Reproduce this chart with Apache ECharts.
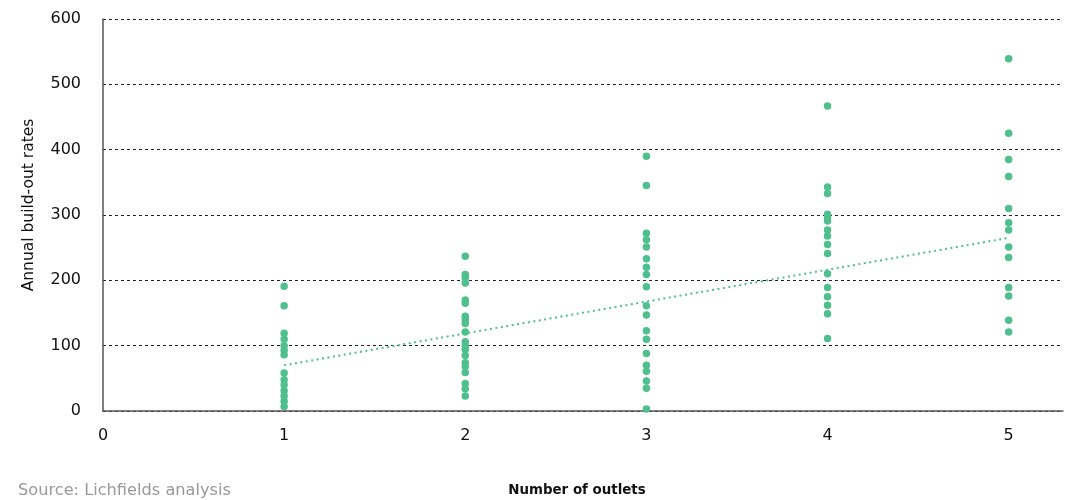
<!DOCTYPE html>
<html>
<head>
<meta charset="utf-8">
<script src="https://cdn.jsdelivr.net/npm/echarts@6/dist/echarts.min.js"></script>
<style>
html,body{margin:0;padding:0;background:#fff;}
#chart{width:1066px;height:500px;}
</style>
</head>
<body>
<div id="chart"></div>
<script>
// Data
const outlets1 = [191, 161, 119, 110, 100, 93, 86, 58, 48, 40, 31, 23, 15, 7];
const outlets2 = [237, 209, 204, 196, 170, 165, 145, 140, 134, 121, 106, 100, 94, 85, 74, 68, 59, 42, 34, 23];
const outlets3 = [390, 345, 272, 262, 251, 233, 220, 209, 190, 161, 147, 123, 110, 88, 70, 61, 46, 35, 3];
const outlets4 = [467, 343, 333, 301, 296, 291, 277, 268, 255, 241, 210, 189, 175, 162, 149, 111];
const outlets5 = [539, 425, 385, 359, 310, 288, 277, 251, 235, 189, 176, 139, 121];
const trendX = [1, 5];
const trendY = [70, 265];
const yTicks = [0, 100, 200, 300, 400, 500, 600];
const xTicks = [0, 1, 2, 3, 4, 5];

const groups = [outlets1, outlets2, outlets3, outlets4, outlets5];
const points = [];
groups.forEach((vals, i) => vals.forEach(v => points.push([i + 1, v])));
const trend = trendX.map((x, i) => [x, trendY[i]]);

const green = '#4fc08d';
const font = '"DejaVu Sans", Verdana, sans-serif';

const chart = echarts.init(document.getElementById('chart'), null, {renderer: 'canvas'});
chart.setOption({
  animation: false,
  backgroundColor: '#fff',
  grid: {left: 103, right: 3, top: 19, bottom: 89, containLabel: false},
  xAxis: {
    type: 'value',
    min: 0,
    max: 5.3,
    interval: 1,
    axisLine: {show: true, onZero: false, lineStyle: {color: '#555', width: 1.5}},
    axisTick: {show: false},
    splitLine: {show: false},
    axisLabel: {
      color: '#111', fontSize: 16, fontFamily: font, margin: 17,
      showMaxLabel: false,
      formatter: v => xTicks.indexOf(v) >= 0 ? String(v) : ''
    }
  },
  yAxis: {
    type: 'value',
    min: yTicks[0],
    max: yTicks[yTicks.length - 1],
    interval: 100,
    axisLine: {show: true, lineStyle: {color: '#555', width: 1.5}},
    axisTick: {show: false},
    splitLine: {show: true, lineStyle: {color: '#222', type: [3, 3], width: 1}},
    axisLabel: {color: '#111', fontSize: 16, fontFamily: font, margin: 22}
  },
  series: [
    {
      type: 'scatter',
      data: points,
      symbolSize: 7.5,
      itemStyle: {color: green, opacity: 1},
      z: 3
    },
    {
      type: 'line',
      data: trend,
      symbol: 'none',
      lineStyle: {color: green, width: 2, type: [2, 3.5]},
      z: 2
    }
  ],
  graphic: [
    {
      type: 'text', x: 29, y: 205, rotation: Math.PI / 2,
      style: {text: 'Annual build-out rates', fill: '#111', font: '15.5px ' + font, textAlign: 'center', textVerticalAlign: 'middle'}
    },
    {
      type: 'text', x: 577, y: 491,
      style: {text: 'Number of outlets', fill: '#111', font: 'bold 13.4px ' + font, textAlign: 'center', textVerticalAlign: 'middle'}
    },
    {
      type: 'text', x: 18, y: 491,
      style: {text: 'Source: Lichfields analysis', fill: '#999', font: '16.2px ' + font, textAlign: 'left', textVerticalAlign: 'middle'}
    }
  ]
});
</script>
</body>
</html>
